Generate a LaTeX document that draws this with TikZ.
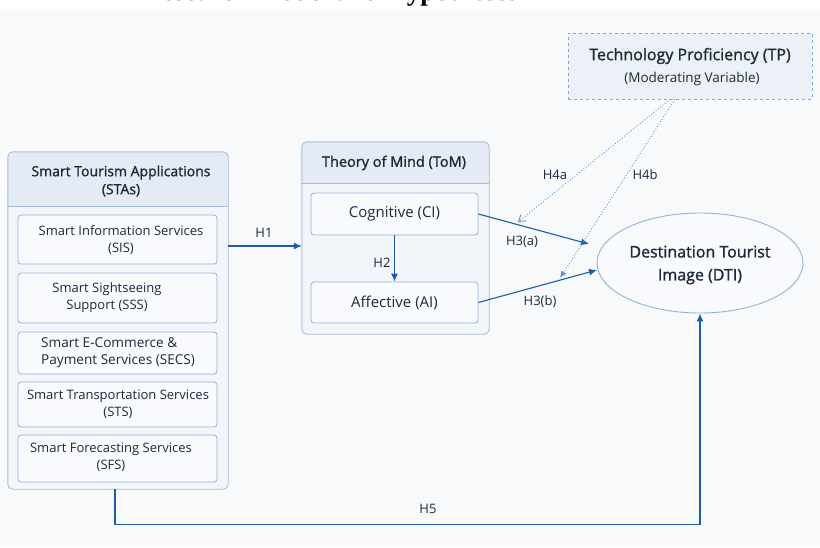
\documentclass[tikz,border=0pt]{standalone}
\usepackage{fontspec}
\setmainfont{Open Sans}
\newfontfamily\semib{Open Sans}[FakeBold=1.3]
\newfontfamily\headfont{Liberation Serif}
\usetikzlibrary{arrows.meta,shapes.geometric,calc}
\definecolor{bordc}{HTML}{A7BEDB}
\definecolor{bodyc}{HTML}{F2F5FA}
\definecolor{headc}{HTML}{E4EBF5}
\definecolor{innerc}{HTML}{93B2D8}
\definecolor{innerfill}{HTML}{F8FAFD}
\definecolor{txtc}{HTML}{1E2A3A}
\definecolor{arrc}{HTML}{1B5DA6}
\definecolor{dotc}{HTML}{5E93D0}
\definecolor{bgc}{HTML}{F8F9FB}
\tikzset{
  outerbox/.style={fill=bodyc, rounded corners=5pt, inner sep=0pt},
  innerbox/.style={draw=innerc, fill=innerfill, rounded corners=3pt, line width=0.8pt, inner sep=0pt, minimum width=199pt},
  lbl/.style={text=txtc, align=center, inner sep=0pt, font=\fontsize{13}{17}\selectfont},
  ttl/.style={text=txtc, align=center, inner sep=0pt, font=\semib\fontsize{14}{18}\selectfont},
  hyp/.style={text=txtc, inner sep=0pt, font=\fontsize{13}{15}\selectfont},
  arr/.style={draw=arrc, line width=1.1pt, -{Latex[length=8pt,width=7pt]}},
  dotarr/.style={draw=dotc, line width=0.9pt, dotted},
}
\begin{document}
\begin{tikzpicture}[x=1pt,y=-1pt]
\useasboundingbox (0,0) rectangle (820,547);
\fill[white] (0,0) rectangle (820,547);
\fill[bgc] (0,9) rectangle (820,547);
% cut-off heading
\node[anchor=base east, inner sep=0pt, font=\headfont\bfseries\fontsize{27}{30}\selectfont] (head) at (518,0) {Research Model and Hypotheses};

% ---------- STAs ----------
\node[outerbox, minimum width=220pt, minimum height=337pt] (sta) at (118,320.5) {};
\coordinate (staH) at (118,206);
\begin{scope}
\clip[rounded corners=5pt] (sta.north west) rectangle (sta.south east);
\fill[headc] (sta.north west) rectangle (sta.east |- staH);
\end{scope}
\draw[bordc, rounded corners=5pt, line width=0.9pt] (sta.north west) rectangle (sta.south east);
\draw[bordc, line width=0.9pt] (sta.west |- staH) -- (sta.east |- staH);
\node[ttl] (statitle) at (121,181) {Smart Tourism Applications\\(STAs)};

\node[innerbox, minimum height=49pt] (sis) at (117.5,239.5) {};
\node[lbl] (sist) at (121,240) {Smart Information Services\\(SIS)};
\node[innerbox, minimum height=50pt] (sss) at (117.5,298) {};
\node[lbl] (ssst) at (107,297.5) {Smart Sightseeing\\Support (SSS)};
\node[innerbox, minimum height=42pt] (secs) at (117.5,353) {};
\node[lbl, align=left, anchor=west, font=\fontsize{13.6}{17}\selectfont] (secst) at (41,352.5) {Smart E-Commerce \&\\Payment Services (SECS)};
\node[innerbox, minimum height=45pt] (sts) at (117.5,404.5) {};
\node[lbl] (stst) at (118,404.5) {Smart Transportation Services\\(STS)};
\node[innerbox, minimum height=47pt] (sfs) at (117.5,458.5) {};
\node[lbl] (sfst) at (111,457.5) {Smart Forecasting Services\\(SFS)};

% ---------- ToM ----------
\node[outerbox, minimum width=187pt, minimum height=192pt] (tom) at (395.5,238) {};
\coordinate (tomH) at (395.5,183);
\begin{scope}
\clip[rounded corners=5pt] (tom.north west) rectangle (tom.south east);
\fill[headc] (tom.north west) rectangle (tom.east |- tomH);
\end{scope}
\draw[bordc, rounded corners=5pt, line width=0.9pt] (tom.north west) rectangle (tom.south east);
\draw[bordc, line width=0.9pt] (tom.west |- tomH) -- (tom.east |- tomH);
\node[ttl, font=\semib\fontsize{14.5}{18}\selectfont] (tomtitle) at (394,163) {Theory of Mind (ToM)};
\node[innerbox, minimum width=167pt, minimum height=42pt, lbl, font=\fontsize{15}{18}\selectfont] (cog) at (394.5,214) {Cognitive (CI)};
\node[innerbox, minimum width=167pt, minimum height=41pt, lbl, font=\fontsize{15}{18}\selectfont] (aff) at (394.5,302.5) {Affective (AI)};

% ---------- DTI ----------
\node[ellipse, draw=innerc, fill=innerfill, line width=0.9pt, minimum width=206pt, minimum height=100pt, inner sep=0pt] (dti) at (700,263) {};
\node[ttl, font=\semib\fontsize{16}{23}\selectfont] (dtit) at (700,265) {Destination Tourist\\Image (DTI)};

% ---------- TP ----------
\node[draw=dotc!80, dashed, fill=headc!70, line width=0.8pt, minimum width=244pt, minimum height=66pt, inner sep=0pt] (tp) at (690,66) {};
\node[ttl, font=\semib\fontsize{16}{18}\selectfont] (tpt) at (690,56) {Technology Proficiency (TP)};
\node[lbl, font=\fontsize{13.5}{15}\selectfont] (tps) at (692,79) {(Moderating Variable)};

% ---------- connectors ----------
\coordinate (h1y) at (0,246);
\draw[arr] (sta.east |- h1y) -- (tom.west |- h1y);
\node[hyp] (h1) at (264,233) {H1};

\draw[arr] (cog.south) -- (aff.north);
\node[hyp] (h2) at (382,263) {H2};

\coordinate (h3aend) at (589,244);
\draw[arr] (cog.east) -- (h3aend);
\node[hyp] (h3a) at (522,242) {H3(a)};

\coordinate (h3bend) at (597,270);
\draw[arr] (aff.east) -- (h3bend);
\node[hyp] (h3b) at (540,302) {H3(b)};

\coordinate (h4aend) at (518,222);
\draw[dotarr, -{Straight Barb[length=6pt,width=8pt]}] ([xshift=-20pt]tp.south) -- (h4aend);
\node[hyp] (h4a) at (555,175) {H4a};

\coordinate (h4bend) at (560,278);
\draw[dotarr, -{Latex[length=7pt,width=6pt]}] ([xshift=-15pt]tp.south) -- (h4bend);
\node[hyp] (h4b) at (645,175) {H4b};

\draw[arr] ([xshift=-3pt]sta.south) -- ++(0,35) -| (dti.south);
\node[hyp] (h5) at (428,509) {H5};
\end{tikzpicture}
\end{document}
